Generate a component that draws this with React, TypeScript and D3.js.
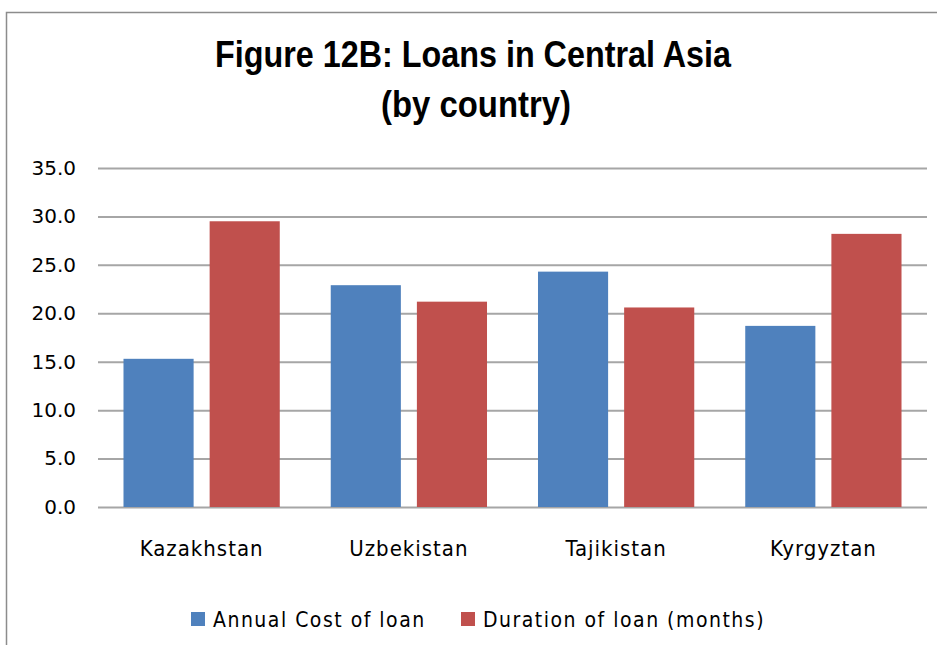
import React, { useEffect, useRef } from "react";
import * as d3 from "d3";

const countries = ["Kazakhstan", "Uzbekistan", "Tajikistan", "Kyrgyztan"];
const seriesNames = ["Annual Cost of loan", "Duration of loan (months)"];
const annualCost = [15.3, 22.9, 24.3, 18.7];
const duration = [29.5, 21.2, 20.6, 28.2];
const yTicks = [0, 5, 10, 15, 20, 25, 30, 35];
const colors = ["#4F81BD", "#C0504D"];

const width = 937;
const height = 645;
const margin = { top: 168, right: 10, bottom: 138, left: 98 };

const App = () => {
  const ref = useRef(null);

  useEffect(() => {
    const svg = d3.select(ref.current);
    svg.selectAll("*").remove();

    const rows = countries.map((c, i) => ({ country: c, values: [annualCost[i], duration[i]] }));

    const x0 = d3
      .scaleBand()
      .domain(countries)
      .range([margin.left, width - margin.right])
      .paddingInner(0.246)
      .paddingOuter(0.123);

    const x1 = d3
      .scaleBand()
      .domain(seriesNames)
      .range([0, x0.bandwidth()])
      .paddingInner(0.186);

    const y = d3
      .scaleLinear()
      .domain([0, 35])
      .range([height - margin.bottom, margin.top]);

    // outer frame (only left/top visible in the crop)
    svg
      .append("rect")
      .attr("x", 6.5)
      .attr("y", 12.5)
      .attr("width", 960)
      .attr("height", 700)
      .attr("fill", "#fff")
      .attr("stroke", "#8c8c8c")
      .attr("stroke-width", 1.5);

    // title, squeezed to look like a condensed bold face
    const titleFont = "'Liberation Sans', Arial, sans-serif";
    svg
      .append("text")
      .attr("x", 473)
      .attr("y", 67)
      .attr("text-anchor", "middle")
      .attr("font-family", titleFont)
      .attr("font-weight", "bold")
      .attr("font-size", 36)
      .attr("textLength", 516)
      .attr("lengthAdjust", "spacingAndGlyphs")
      .text("Figure 12B: Loans in Central Asia");
    svg
      .append("text")
      .attr("x", 476)
      .attr("y", 117)
      .attr("text-anchor", "middle")
      .attr("font-family", titleFont)
      .attr("font-weight", "bold")
      .attr("font-size", 36)
      .attr("textLength", 190)
      .attr("lengthAdjust", "spacingAndGlyphs")
      .text("(by country)");

    // gridlines + y labels
    const yAxis = d3
      .axisLeft(y)
      .tickValues(yTicks)
      .tickFormat(d3.format(".1f"))
      .tickSize(-(width - margin.right - margin.left))
      .tickPadding(22);

    svg
      .append("g")
      .attr("transform", `translate(${margin.left},0)`)
      .call(yAxis)
      .call((g) => g.select(".domain").remove())
      .call((g) => g.selectAll(".tick line").attr("stroke", "#a6a6a6").attr("stroke-width", 2))
      .call((g) =>
        g
          .selectAll(".tick text")
          .attr("font-family", "'DejaVu Sans', sans-serif")
          .attr("font-size", 20)
          .attr("fill", "#000")
      );

    // bars
    svg
      .append("g")
      .selectAll("g")
      .data(rows)
      .join("g")
      .attr("transform", (d) => `translate(${x0(d.country)},0)`)
      .selectAll("rect")
      .data((d) => d.values.map((v, i) => ({ key: seriesNames[i], value: v, i })))
      .join("rect")
      .attr("x", (d) => x1(d.key))
      .attr("width", x1.bandwidth())
      .attr("y", (d) => y(d.value))
      .attr("height", (d) => y(0) - y(d.value))
      .attr("fill", (d) => colors[d.i]);

    // category labels
    const xAxis = d3.axisBottom(x0).tickSize(0).tickPadding(33);
    svg
      .append("g")
      .attr("transform", `translate(0,${y(0)})`)
      .call(xAxis)
      .call((g) => g.select(".domain").remove())
      .call((g) =>
        g
          .selectAll(".tick text")
          .attr("font-family", "'DejaVu Sans Condensed', 'DejaVu Sans', sans-serif")
          .attr("font-size", 22)
          .attr("letter-spacing", 1)
          .attr("fill", "#000")
      );

    // legend
    const legendX = [191, 461];
    const legend = svg
      .append("g")
      .selectAll("g")
      .data(seriesNames)
      .join("g")
      .attr("transform", (d, i) => `translate(${legendX[i]},612)`);
    legend.append("rect").attr("width", 14).attr("height", 14).attr("fill", (d, i) => colors[i]);
    legend
      .append("text")
      .attr("x", 22)
      .attr("y", 15)
      .attr("font-family", "'DejaVu Sans Condensed', 'DejaVu Sans', sans-serif")
      .attr("font-size", 21)
      .attr("letter-spacing", 1.5)
      .attr("fill", "#000")
      .text((d) => d);
  }, []);

  return (
    <svg
      ref={ref}
      width={width}
      height={height}
      style={{ position: "absolute", left: 0, top: 0, background: "#fff" }}
    />
  );
};

export default App;
